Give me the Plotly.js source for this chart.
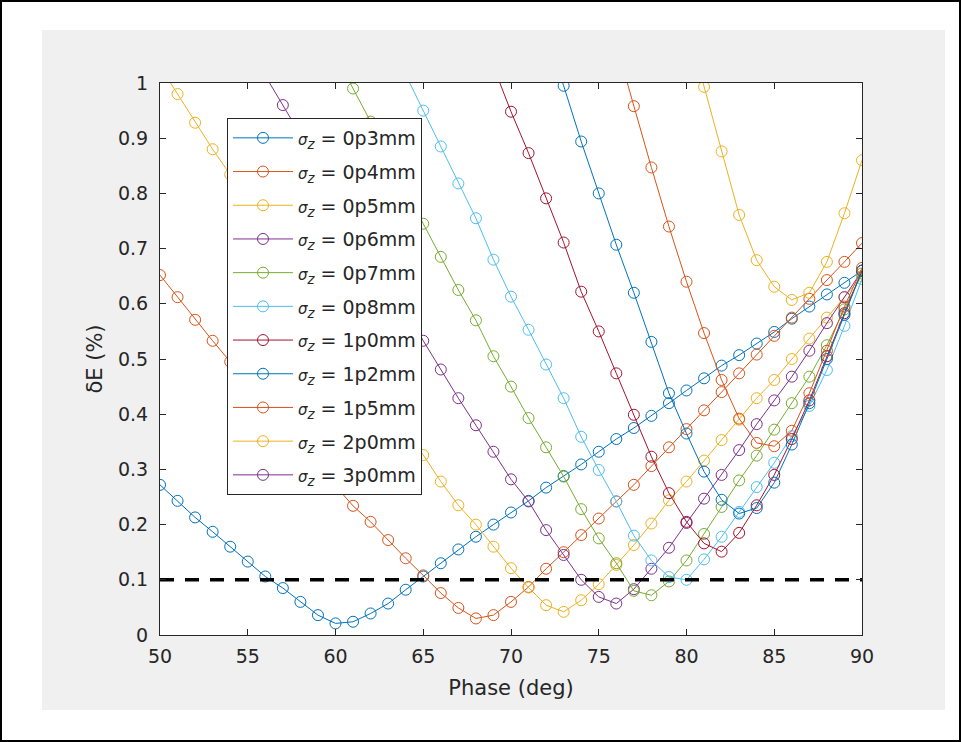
<!DOCTYPE html>
<html>
<head>
<meta charset="utf-8">
<script src="https://cdn.plot.ly/plotly-3.0.1.min.js"></script>
<style>
  html, body { margin: 0; padding: 0; background: #ffffff; }
  #chart { width: 961px; height: 742px; }
</style>
</head>
<body>
<div id="chart"></div>
<script>
// RF phase scan (deg)
const phase = [50,51,52,53,54,55,56,57,58,59,60,61,62,63,64,65,66,67,68,69,70,
               71,72,73,74,75,76,77,78,79,80,81,82,83,84,85,86,87,88,89,90];

// Relative energy spread (%) for each bunch length
const dE_0p3 = [0.272,0.243,0.213,0.187,0.160,0.133,0.106,0.085,0.060,0.036,0.021,
                0.024,0.039,0.057,0.082,0.106,0.130,0.155,0.178,0.200,0.222,
                0.243,0.267,0.288,0.309,0.332,0.355,0.375,0.397,0.420,0.443,
                0.465,0.488,0.507,0.528,0.549,0.573,0.595,0.617,0.638,0.660];
const dE_0p4 = [0.652,0.612,0.571,0.533,0.495,0.458,0.420,0.383,0.345,0.308,0.270,
                0.234,0.205,0.172,0.139,0.108,0.076,0.049,0.030,0.036,0.060,
                0.087,0.120,0.150,0.181,0.211,0.242,0.272,0.306,0.340,0.373,
                0.407,0.440,0.474,0.508,0.542,0.575,0.609,0.643,0.676,0.710];
const dE_0p5 = [1.030,0.980,0.928,0.880,0.834,0.788,0.742,0.696,0.650,0.604,0.558,
                0.512,0.466,0.420,0.374,0.326,0.278,0.235,0.200,0.160,0.121,
                0.086,0.054,0.042,0.063,0.092,0.127,0.163,0.202,0.244,0.278,
                0.316,0.353,0.390,0.429,0.462,0.500,0.537,0.575,0.612,0.650];
const dE_0p6 = [null,null,null,null,null,null,1.013,0.960,0.907,0.853,0.800,
                0.747,0.693,0.640,0.587,0.533,0.481,0.429,0.380,0.332,0.282,
                0.242,0.190,0.145,0.100,0.069,0.057,0.083,0.120,0.158,0.203,
                0.247,0.290,0.335,0.382,0.425,0.468,0.515,0.565,0.612,0.660];
const dE_0p7 = [null,null,null,null,null,null,null,null,null,null,1.050,
                0.990,0.930,0.870,0.810,0.745,0.685,0.625,0.570,0.505,0.450,
                0.393,0.340,0.287,0.228,0.175,0.130,0.080,0.072,0.097,0.135,
                0.183,0.232,0.280,0.325,0.372,0.420,0.468,0.525,0.590,0.655];
const dE_0p8 = [null,null,null,null,null,null,null,null,null,null,null,
                null,null,null,1.015,0.950,0.885,0.818,0.755,0.680,0.613,
                0.553,0.490,0.429,0.359,0.299,0.242,0.180,0.135,0.105,0.100,
                0.137,0.178,0.223,0.268,0.312,0.360,0.415,0.480,0.560,0.645];
const dE_1p0 = [null,null,null,null,null,null,null,null,null,null,null,
                null,null,null,null,null,null,null,null,1.030,0.948,
                0.873,0.791,0.711,0.622,0.550,0.474,0.399,0.323,0.257,0.205,
                0.166,0.151,0.185,0.235,0.290,0.355,0.425,0.505,0.583,0.660];
const dE_1p2 = [null,null,null,null,null,null,null,null,null,null,null,
                null,null,null,null,null,null,null,null,null,null,
                null,1.090,0.995,0.894,0.800,0.707,0.620,0.531,0.438,0.365,
                0.296,0.245,0.220,0.230,0.276,0.345,0.420,0.500,0.580,0.660];
const dE_1p5 = [null,null,null,null,null,null,null,null,null,null,null,
                null,null,null,null,null,null,null,null,null,null,
                null,null,null,null,null,1.070,0.958,0.847,0.740,0.640,
                0.547,0.462,0.392,0.348,0.342,0.370,0.438,0.515,0.595,0.665];
const dE_2p0 = [null,null,null,null,null,null,null,null,null,null,null,
                null,null,null,null,null,null,null,null,null,null,
                null,null,null,null,null,null,null,null,null,1.110,
                0.993,0.876,0.761,0.679,0.631,0.607,0.620,0.676,0.764,0.860];
const dE_3p0 = [null,null,null,null,null,null,null,null,null,null,null,
                null,null,null,null,null,null,null,null,null,null,
                null,null,null,null,null,null,null,null,null,null,
                null,null,null,1.620,1.480,1.380,1.310,1.280,1.300,1.360];

const seriesValues = [dE_0p3, dE_0p4, dE_0p5, dE_0p6, dE_0p7, dE_0p8,
                      dE_1p0, dE_1p2, dE_1p5, dE_2p0, dE_3p0];
const sigmaLabels = ['0p3mm','0p4mm','0p5mm','0p6mm','0p7mm','0p8mm',
                     '1p0mm','1p2mm','1p5mm','2p0mm','3p0mm'];

// Tolerance level on the energy spread (%)
const limitPhase = [50, 90];
const limitValue = [0.1, 0.1];

const xTicks = [50,55,60,65,70,75,80,85,90];
const yTicks = [0,0.1,0.2,0.3,0.4,0.5,0.6,0.7,0.8,0.9,1];

// MATLAB-style default colour order
const palette = ['#0072BD','#D95319','#EDB120','#7E2F8E','#77AC30','#4DBEEE','#A2142F'];
const FONT = 'DejaVu Sans, Liberation Sans, Arial, sans-serif';
const INK = '#262626';

const traces = seriesValues.map((vals, i) => ({
  type: 'scatter',
  mode: 'lines+markers',
  x: phase,
  y: vals,
  name: '<span style="font-size:15px"><i>σ</i></span><sub><i>z</i></sub> = ' + sigmaLabels[i],
  legendgroup: 'g' + i,
  connectgaps: false,
  line: { color: palette[i % palette.length], width: 1 },
  marker: { symbol: 'circle-open', size: 11, color: palette[i % palette.length],
            line: { width: 1, color: palette[i % palette.length] } },
  cliponaxis: true
}));

traces.push({
  type: 'scatter',
  mode: 'lines',
  x: limitPhase,
  y: limitValue,
  showlegend: false,
  hoverinfo: 'skip',
  line: { color: '#000000', width: 3.5, dash: '14px,11px' }
});

// paper coordinates of the frame around the axes
const px = v => (v - 160) / 702;
const py = v => (635 - v) / 552;

const axisCommon = {
  showline: true, linecolor: INK, linewidth: 1, mirror: 'ticks',
  ticks: 'inside', ticklen: 6, tickwidth: 1, tickcolor: INK,
  showgrid: false, zeroline: false,
  tickfont: { family: FONT, size: 19, color: INK }
};

const layout = {
  width: 961, height: 742,
  margin: { l: 160, r: 99, t: 83, b: 107, pad: 0 },
  paper_bgcolor: '#ffffff',
  plot_bgcolor: '#ffffff',
  font: { family: FONT, color: INK },
  showlegend: true,
  xaxis: Object.assign({}, axisCommon, {
    range: [50, 90], tickmode: 'array', tickvals: xTicks,
    ticktext: xTicks.map(String), ticklabelstandoff: 4,
    title: { text: 'Phase (deg)', font: { family: FONT, size: 21, color: INK }, standoff: 14 }
  }),
  yaxis: Object.assign({}, axisCommon, {
    range: [0, 1], tickmode: 'array', tickvals: yTicks,
    ticktext: yTicks.map(String), ticklabelstandoff: 7,
    title: { text: 'δE (%)', font: { family: FONT, size: 21, color: INK }, standoff: 9 }
  }),
  legend: {
    x: px(227), y: py(118), xanchor: 'left', yanchor: 'top',
    bgcolor: '#ffffff', bordercolor: INK, borderwidth: 1,
    font: { family: FONT, size: 19, color: INK },
    traceorder: 'grouped', tracegroupgap: 6, itemwidth: 60
  },
  shapes: [
    { type: 'rect', xref: 'paper', yref: 'paper', layer: 'below',
      x0: px(1), x1: px(960), y0: py(741), y1: py(1),
      line: { color: '#000000', width: 2 }, fillcolor: '#ffffff' },
    { type: 'rect', xref: 'paper', yref: 'paper', layer: 'below',
      x0: px(42), x1: px(945), y0: py(710), y1: py(30),
      line: { width: 0 }, fillcolor: '#f0f0f0' },
    { type: 'rect', xref: 'paper', yref: 'paper', layer: 'below',
      x0: 0, x1: 1, y0: 0, y1: 1,
      line: { width: 0 }, fillcolor: '#ffffff' }
  ]
};

Plotly.newPlot('chart', traces, layout, { displayModeBar: false, staticPlot: true });
</script>
</body>
</html>
